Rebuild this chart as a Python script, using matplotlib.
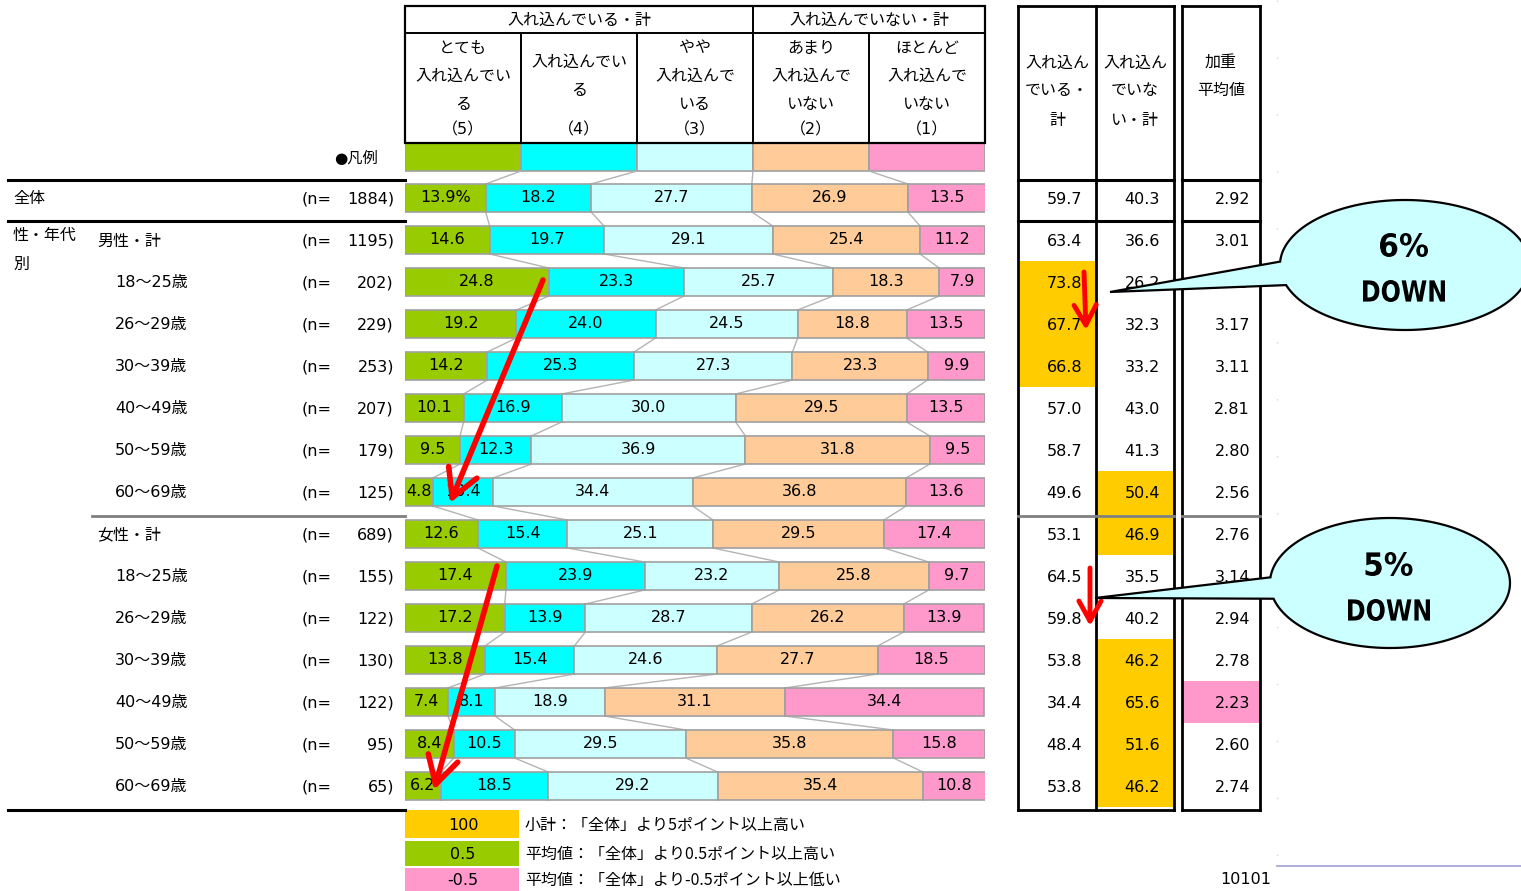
import numpy as np
import matplotlib
matplotlib.use("Agg")
import matplotlib.pyplot as plt
from matplotlib.patches import Rectangle, Polygon, PathPatch
from matplotlib.textpath import TextPath
from matplotlib.font_manager import FontProperties
from matplotlib.transforms import Affine2D

plt.rcParams['font.family'] = ['DejaVu Sans', 'Noto Sans CJK JP']

W, H = 1521, 891

# ---- data ----
col_heads = ["とても\n入れ込んでい\nる", "入れ込んでい\nる", "やや\n入れ込んで\nいる",
             "あまり\n入れ込んで\nいない", "ほとんど\n入れ込んで\nいない"]
col_nums = ["（5）", "（4）", "（3）", "（2）", "（1）"]
row_labels = ["全体", "男性・計", "18～25歳", "26～29歳", "30～39歳", "40～49歳", "50～59歳", "60～69歳",
              "女性・計", "18～25歳", "26～29歳", "30～39歳", "40～49歳", "50～59歳", "60～69歳"]
n_vals = [1884, 1195, 202, 229, 253, 207, 179, 125, 689, 155, 122, 130, 122, 95, 65]
v5 = [13.9, 14.6, 24.8, 19.2, 14.2, 10.1, 9.5, 4.8, 12.6, 17.4, 17.2, 13.8, 7.4, 8.4, 6.2]
v4 = [18.2, 19.7, 23.3, 24.0, 25.3, 16.9, 12.3, 10.4, 15.4, 23.9, 13.9, 15.4, 8.1, 10.5, 18.5]
v3 = [27.7, 29.1, 25.7, 24.5, 27.3, 30.0, 36.9, 34.4, 25.1, 23.2, 28.7, 24.6, 18.9, 29.5, 29.2]
v2 = [26.9, 25.4, 18.3, 18.8, 23.3, 29.5, 31.8, 36.8, 29.5, 25.8, 26.2, 27.7, 31.1, 35.8, 35.4]
v1 = [13.5, 11.2, 7.9, 13.5, 9.9, 13.5, 9.5, 13.6, 17.4, 9.7, 13.9, 18.5, 34.4, 15.8, 10.8]
sub_pos = [59.7, 63.4, 73.8, 67.7, 66.8, 57.0, 58.7, 49.6, 53.1, 64.5, 59.8, 53.8, 34.4, 48.4, 53.8]
sub_neg = [40.3, 36.6, 26.2, 32.3, 33.2, 43.0, 41.3, 50.4, 46.9, 35.5, 40.2, 46.2, 65.6, 51.6, 46.2]
w_mean = [2.92, 3.01, 3.39, 3.17, 3.11, 2.81, 2.80, 2.56, 2.76, 3.14, 2.94, 2.78, 2.23, 2.60, 2.74]

colors = ["#99CC00", "#00FFFF", "#CCFFFF", "#FFCC99", "#FF99CC"]
GOLD, GREEN, PINK = "#FFCC00", "#99CC00", "#FF99CC"

fig = plt.figure(figsize=(W / 100, H / 100), dpi=100)

# ---- bar axes (x in %, y in pixel rows) ----
bx = fig.add_axes([405 / W, 0, 580 / W, 1])
bx.set_xlim(0, 100)
bx.set_ylim(H, 0)
bx.axis("off")

ys = 198 + 42 * np.arange(len(row_labels))
bh = 28
nfs = 11.5  # numbers
fs = 11.5   # japanese text
vals = np.array([v5, v4, v3, v2, v1])
lefts = np.vstack([np.zeros(len(ys)), np.cumsum(vals, axis=0)[:-1]])

# legend row
leg_y = 157
bx.barh(leg_y, [20] * 5, left=[0, 20, 40, 60, 80], height=bh, color=colors,
        edgecolor="#A0A0A0", linewidth=1.2)

for k in range(5):
    bx.barh(ys, vals[k], left=lefts[k], height=bh, color=colors[k],
            edgecolor="#A0A0A0", linewidth=1.2, zorder=3)
    for i, y in enumerate(ys):
        txt = f"{vals[k][i]:.1f}" + ("%" if (i == 0 and k == 0) else "")
        bx.text(lefts[k][i] + vals[k][i] / 2, y, txt, ha="center", va="center",
                fontsize=nfs, zorder=4)

# connector lines between rows
bounds = np.cumsum(vals, axis=0)[:-1]
prev_b = np.array([20, 40, 60, 80])
prev_y = leg_y
for i, y in enumerate(ys):
    cur_b = bounds[:, i]
    for a, b in zip(prev_b, cur_b):
        bx.plot([a, b], [prev_y + bh / 2, y - bh / 2], color="#B4B4B4", lw=1, zorder=2)
    prev_b, prev_y = cur_b, y
bx.plot([100.15, 100.15], [171, 805], color="#D0D0D0", lw=1.2)

# ---- overlay axes in pixel coords ----
ax = fig.add_axes([0, 0, 1, 1])
ax.set_xlim(0, W)
ax.set_ylim(H, 0)
ax.axis("off")
ax.patch.set_alpha(0)

# header box of the bar area
cols_x = [405, 521, 637, 753, 869, 985]
ax.add_patch(Rectangle((405, 6), 580, 137, fill=False, ec="black", lw=1.6))
ax.plot([405, 985], [33, 33], color="black", lw=1.4)
for x in cols_x[1:-1]:
    ax.plot([x, x], [33, 143], color="black", lw=1.4)
ax.plot([753, 753], [6, 33], color="black", lw=1.4)
ax.text(579, 20, "入れ込んでいる・計", ha="center", va="center", fontsize=fs)
ax.text(869, 20, "入れ込んでいない・計", ha="center", va="center", fontsize=fs)
line_ys = [48, 76, 105]
for j, h in enumerate(col_heads):
    cx = (cols_x[j] + cols_x[j + 1]) / 2
    lines = h.split("\n")
    yy = line_ys if len(lines) == 3 else [62, 90]
    for t, y in zip(lines, yy):
        ax.text(cx, y, t, ha="center", va="center", fontsize=fs)
    ax.text(cx, 130, col_nums[j], ha="center", va="center", fontsize=fs)

ax.text(378, 158, "●凡例", ha="right", va="center", fontsize=fs - 0.5)

# left table lines
ax.plot([8, 405], [180, 180], color="black", lw=2.2)
ax.plot([8, 405], [221, 221], color="black", lw=2.2)
ax.plot([92, 405], [516, 516], color="#808080", lw=2)
ax.plot([8, 405], [810, 810], color="black", lw=2.2)

for i, (lab, y) in enumerate(zip(row_labels, ys)):
    if i == 0:
        x = 13
    elif i in (1, 8):
        x = 97
    else:
        x = 115
    ax.text(x, y + 1, lab, ha="left", va="center", fontsize=fs)
    ax.text(302, y + 1, "(n=", ha="left", va="center", fontsize=nfs)
    ax.text(394, y + 1, f"{n_vals[i]})", ha="right", va="center", fontsize=nfs)
ax.text(13, 235, "性・年代", ha="left", va="center", fontsize=fs)
ax.text(13, 264, "別", ha="left", va="center", fontsize=fs)

# right tables
tx = [1018, 1096, 1174]
mx = [1182, 1260]
for i, y in enumerate(ys):
    if sub_pos[i] - sub_pos[0] >= 5:
        ax.add_patch(Rectangle((tx[0], y - 21), 78, 42, color=GOLD, lw=0))
    if i > 0 and sub_neg[i] - sub_neg[0] >= 5:
        ax.add_patch(Rectangle((tx[1], y - 21), 78, 42, color=GOLD, lw=0))
    if i > 0 and w_mean[i] - w_mean[0] >= 0.5:
        ax.add_patch(Rectangle((mx[0], y - 21), 78, 42, color=GREEN, lw=0))
    if i > 0 and w_mean[i] - w_mean[0] <= -0.5:
        ax.add_patch(Rectangle((mx[0], y - 21), 78, 42, color=PINK, lw=0))
    ax.text(1082, y + 1, f"{sub_pos[i]:.1f}", ha="right", va="center", fontsize=nfs)
    ax.text(1160, y + 1, f"{sub_neg[i]:.1f}", ha="right", va="center", fontsize=nfs)
    ax.text(1250, y + 1, f"{w_mean[i]:.2f}", ha="right", va="center", fontsize=nfs)

for x in tx + mx:
    ax.plot([x, x], [6, 810], color="black", lw=2)
for x0, x1 in [(1018, 1174), (1182, 1260)]:
    ax.plot([x0, x1], [6, 6], color="black", lw=2)
    ax.plot([x0, x1], [810, 810], color="black", lw=2)
    ax.plot([x0, x1], [180, 180], color="black", lw=2.2)
    ax.plot([x0, x1], [221, 221], color="black", lw=2.2)
    ax.plot([x0, x1], [516, 516], color="#808080", lw=2)
for t, y in zip(["入れ込ん", "でいる・", "計"], [63, 91, 120]):
    ax.text(1057, y, t, ha="center", va="center", fontsize=fs)
for t, y in zip(["入れ込ん", "でいな", "い・計"], [63, 91, 120]):
    ax.text(1135, y, t, ha="center", va="center", fontsize=fs)
for t, y in zip(["加重", "平均値"], [62, 90]):
    ax.text(1221, y, t, ha="center", va="center", fontsize=fs)

# bottom legend
leg_items = [(GOLD, "100", "小計：「全体」より5ポイント以上高い", 810, 28),
             (GREEN, "0.5", "平均値：「全体」より0.5ポイント以上高い", 841, 25),
             (PINK, "-0.5", "平均値：「全体」より-0.5ポイント以上低い", 868, 23)]
for c, v, desc, y0, h in leg_items:
    ax.add_patch(Rectangle((405, y0), 114, h, color=c, lw=0))
    ax.text(463, y0 + h / 2 + 1, v, ha="center", va="center", fontsize=nfs)
    ax.text(525, y0 + h / 2 + 1, desc, ha="left", va="center", fontsize=fs,
            family=["Noto Sans CJK JP"])
ax.text(1271, 880, "10101", ha="right", va="center", fontsize=nfs)
ax.plot([1277, 1521], [866, 866], color="#A0A0D0", lw=1.2)
ax.plot([1277, 1277], [0, 860], color="#D8D8D8", lw=1, ls=(0, (1, 40)))

# red arrows
def red_arrow(x0, y0, x1, y1, lw=4, hs=22):
    ax.annotate("", xy=(x1, y1), xytext=(x0, y0),
                arrowprops=dict(arrowstyle="->,head_length=0.9,head_width=0.5",
                                color="#FF0000", lw=lw, mutation_scale=hs,
                                shrinkA=0, shrinkB=0))

red_arrow(543, 280, 450, 503)
red_arrow(497, 566, 434, 790)
red_arrow(1084, 272, 1086, 330, lw=3.5, hs=16)
red_arrow(1090, 568, 1090, 626, lw=3.5, hs=16)

# condensed bold text drawn as a scaled path
bold = FontProperties(family="DejaVu Sans", weight="bold")

def narrow_text(s, cx, cy, w, h):
    tp = TextPath((0, 0), s, size=30, prop=bold)
    ext = tp.get_extents()
    sx, sy = w / ext.width, h / ext.height
    tr = (Affine2D().translate(-ext.x0 - ext.width / 2, -ext.y0 - ext.height / 2)
          .scale(sx, -sy).translate(cx, cy))
    ax.add_patch(PathPatch(tr.transform_path(tp), fc="black", ec="none", zorder=7))

# callouts
def callout(cx, cy, a, b, t_from, t_to, tip):
    t = np.deg2rad(np.linspace(t_from, t_to + 360, 200))
    pts = np.column_stack([cx + a * np.cos(t), cy + b * np.sin(t)])
    pts = np.vstack([pts, tip])
    ax.add_patch(Polygon(pts, closed=True, fc="#CCFFFF", ec="black", lw=1.6, zorder=6))

callout(1405, 265, 125, 65, 183, 162, (1110, 292))
narrow_text("6%", 1404, 245, 48, 24)
narrow_text("DOWN", 1404, 291, 82, 22)
callout(1390, 583, 120, 65, 185, 166, (1095, 598))
narrow_text("5%", 1389, 564, 47, 24)
narrow_text("DOWN", 1389, 610, 82, 22)

fig.savefig("out.png", dpi=100)
